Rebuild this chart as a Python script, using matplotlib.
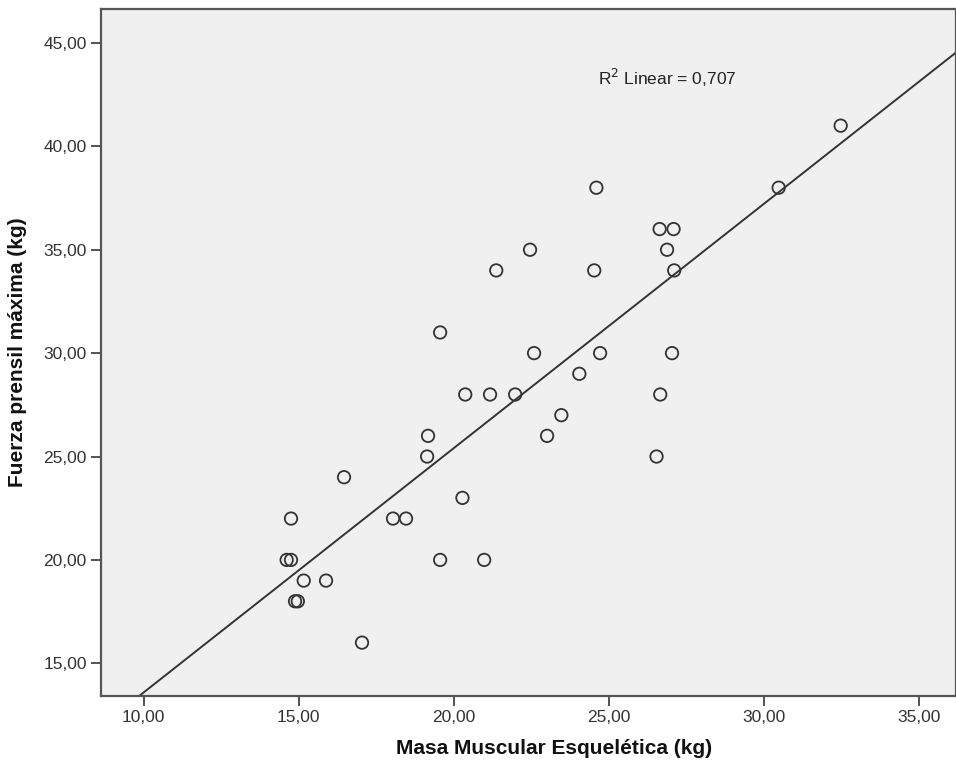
import numpy as np
import matplotlib
matplotlib.use("Agg")
import matplotlib.pyplot as plt

# Data
masa_muscular = [14.75, 14.61, 14.75, 15.16, 15.88, 14.88, 14.97, 17.04, 16.46,
                 18.04, 18.46, 19.56, 20.98, 20.28, 19.14, 19.17, 23.01, 19.56,
                 20.37, 21.17, 21.98, 26.66, 21.37, 24.53, 27.11, 22.46, 26.88,
                 22.59, 24.72, 27.04, 24.05, 23.47, 24.60, 30.48, 26.64, 27.09,
                 26.54, 32.48]
fuerza = [22, 20, 20, 19, 19, 18, 18, 16, 24,
          22, 22, 20, 20, 23, 25, 26, 26, 31,
          28, 28, 28, 28, 34, 34, 34, 35, 35,
          30, 30, 30, 29, 27, 38, 38, 36, 36,
          25, 41]

x_ticks = [10, 15, 20, 25, 30, 35]
x_tick_labels = ["10,00", "15,00", "20,00", "25,00", "30,00", "35,00"]
y_ticks = [15, 20, 25, 30, 35, 40, 45]
y_tick_labels = ["15,00", "20,00", "25,00", "30,00", "35,00", "40,00", "45,00"]
r2_label = "0,707"

x_label = "Masa Muscular Esquelética (kg)"
y_label = "Fuerza prensil máxima (kg)"

plt.rcParams['font.family'] = ['Liberation Sans', 'DejaVu Sans']

fig = plt.figure(figsize=(9.56, 7.71), dpi=100)
ax = fig.add_axes([0.1053, 0.0973, 0.8947, 0.8907])
ax.set_facecolor("#f0f0f0")

xlim = (8.61, 36.2)
ylim = (13.42, 46.63)
ax.set_xlim(*xlim)
ax.set_ylim(*ylim)

# regression line
x = np.array(masa_muscular)
y = np.array(fuerza)
slope, intercept = np.polyfit(x, y, 1)
xs = np.array(xlim)
ax.plot(xs, intercept + slope * xs, color="#333333", lw=1.4, zorder=2)

ax.scatter(masa_muscular, fuerza, s=80, facecolors="none",
           edgecolors="#333333", linewidths=1.3, zorder=3)

ax.set_xticks(x_ticks)
ax.set_xticklabels(x_tick_labels)
ax.set_yticks(y_ticks)
ax.set_yticklabels(y_tick_labels)
ax.tick_params(direction="out", length=7, width=1.3, color="#444444",
               labelsize=12.5, labelcolor="#333333", pad=3)

for side in ["left", "bottom", "top", "right"]:
    ax.spines[side].set_color("#555555")
    ax.spines[side].set_linewidth(1.6)

ax.set_xlabel(x_label, fontsize=15, fontweight="bold", color="#111111",
              labelpad=10)
ax.xaxis.label.set_x(0.53)
ax.set_ylabel(y_label, fontsize=15, fontweight="bold", color="#111111",
              labelpad=12)

ax.text(24.65, 43.3, r"R$^2$ Linear = " + r2_label, fontsize=12.5, color="#222222",
        ha="left", va="center")

fig.savefig("out.png", dpi=100)
